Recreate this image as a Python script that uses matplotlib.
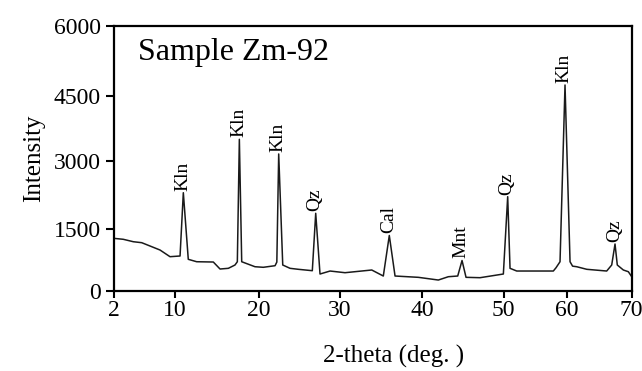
import numpy as np
import matplotlib
matplotlib.use('Agg')
import matplotlib.pyplot as plt

plt.rcParams['font.family'] = ['Liberation Serif', 'DejaVu Serif']

# diffraction trace
two_theta = [2.0, 3.27, 4.57, 5.67, 6.75, 8.05, 9.35, 10.6, 10.99, 11.58,
             12.58, 14.56, 15.36, 16.35, 17.14, 17.42, 17.66, 17.94, 19.52, 20.53,
             21.98, 22.2, 22.43, 22.93, 23.83, 24.85, 26.58, 27.0, 27.53, 28.77,
             30.61, 33.87, 35.28, 36.01, 36.71, 39.55, 42.0, 43.23, 44.38, 44.91,
             45.4, 47.12, 49.98, 50.66, 51.03, 52.09, 57.88, 58.3, 58.94, 59.73,
             60.51, 60.9, 61.54, 63.08, 66.15, 66.92, 67.43, 67.78, 68.71, 69.48, 70.0]
intensity = [1280, 1256, 1197, 1173, 1092, 994, 831, 848, 2300, 767,
             708, 701, 530, 547, 628, 708, 3494, 708, 586, 572,
             611, 700, 3155, 628, 547, 523, 489, 1850, 408, 481,
             440, 506, 359, 1349, 359, 327, 261, 342, 359, 738,
             327, 318, 408, 2213, 547, 481, 481, 560, 708, 4730,
             708, 600, 586, 523, 481, 628, 1141, 628, 506, 464, 342]

peak_pos = [10.99, 17.66, 22.43, 27.0, 36.01, 44.91, 50.66, 59.73, 67.43]
peak_lab = ['Kln', 'Kln', 'Kln', 'Qz', 'Cal', 'Mnt', 'Qz', 'Kln', 'Qz']

x_ticks = [2, 10, 20, 30, 40, 50, 60, 70]
y_ticks = [0, 1500, 3000, 4500, 6000]

# the original axes are not evenly spaced, so map ticks to their drawn spacing
x_tick_px = [0, 61.5, 145.5, 226.5, 308.5, 390, 453.2, 518.2]
y_tick_px = [0, 61.4, 130, 195, 264.7]


def fx(v):
    return np.interp(v, x_ticks, x_tick_px)


def ix(p):
    return np.interp(p, x_tick_px, x_ticks)


def fy(v):
    return np.interp(v, y_ticks, y_tick_px)


def iy(p):
    return np.interp(p, y_tick_px, y_ticks)


fig = plt.figure(figsize=(6.42, 3.71), dpi=100)
ax = fig.add_axes([0.1768, 0.2164, 0.8072, 0.7136])
ax.set_xscale('function', functions=(fx, ix))
ax.set_yscale('function', functions=(fy, iy))

ax.plot(two_theta, intensity, color='#1a1a1a', lw=1.1)

for xp, lab in zip(peak_pos, peak_lab):
    yp = np.interp(xp, two_theta, intensity)
    ax.annotate(lab, (xp, yp), xytext=(-0.5, 1.5), textcoords='offset points',
                rotation=90, ha='center', va='bottom', fontsize=14)

ax.text(0.047, 0.871, 'Sample Zm-92', transform=ax.transAxes,
        fontsize=23, va='baseline', ha='left')

ax.set_xlim(2, 70)
ax.set_ylim(0, 6000)
ax.set_xticks(x_ticks)
ax.set_xticklabels([str(t) for t in x_ticks])
ax.set_yticks(y_ticks)
ax.set_yticklabels([str(t) for t in y_ticks])
ax.minorticks_off()

ax.tick_params(axis='both', direction='out', labelsize=17, width=1.5, colors='black')
ax.tick_params(axis='x', length=5, pad=2)
ax.tick_params(axis='y', length=6, pad=3)
for s in ax.spines.values():
    s.set_linewidth(1.6)

ax.set_ylabel('Intensity', fontsize=18, labelpad=6)
ax.set_xlabel('2-theta (deg. )', fontsize=18)
ax.xaxis.set_label_coords(0.54, -0.205)

fig.savefig('out.png', dpi=100)
